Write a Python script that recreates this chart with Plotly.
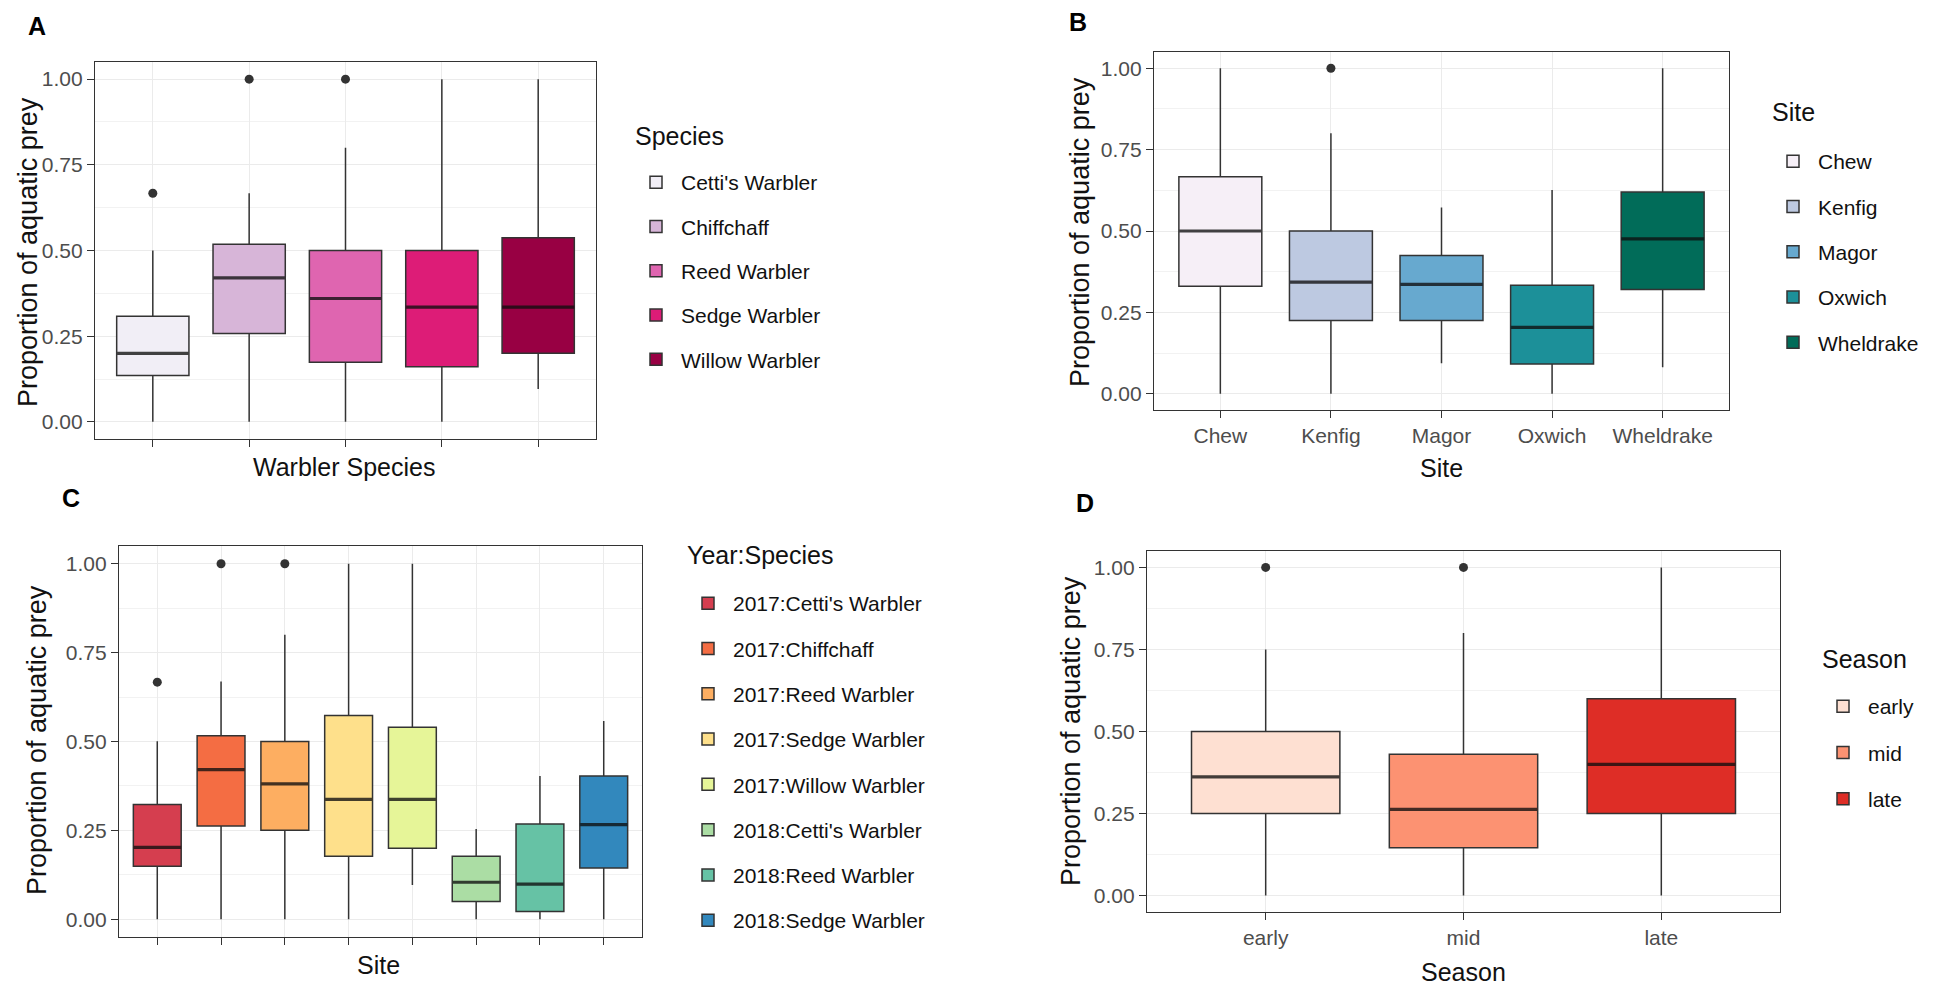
import plotly.graph_objects as go

W, H = 1933, 987

# ---------------- Data ----------------
# Panel A: species
a_cats = ["Cetti's Warbler", "Chiffchaff", "Reed Warbler", "Sedge Warbler", "Willow Warbler"]
a_q1 = [0.135, 0.258, 0.174, 0.161, 0.200]
a_med = [0.200, 0.420, 0.360, 0.335, 0.335]
a_q3 = [0.308, 0.518, 0.500, 0.500, 0.537]
a_lo = [0.0, 0.0, 0.0, 0.0, 0.096]
a_hi = [0.500, 0.667, 0.800, 1.000, 1.000]
a_out_cat = ["Cetti's Warbler", "Chiffchaff", "Reed Warbler"]
a_out_val = [0.667, 1.0, 1.0]
a_colors = ["#F1EEF6", "#D7B5D8", "#DF65B0", "#DD1C77", "#980043"]

# Panel B: site
b_cats = ["Chew", "Kenfig", "Magor", "Oxwich", "Wheldrake"]
b_q1 = [0.330, 0.225, 0.225, 0.091, 0.320]
b_med = [0.500, 0.343, 0.336, 0.204, 0.476]
b_q3 = [0.667, 0.500, 0.425, 0.333, 0.620]
b_lo = [0.0, 0.0, 0.094, 0.0, 0.081]
b_hi = [1.000, 0.800, 0.572, 0.626, 1.000]
b_out_cat = ["Kenfig"]
b_out_val = [1.0]
b_colors = ["#F6EFF7", "#BDC9E1", "#67A9CF", "#1C9099", "#016C59"]

# Panel C: year:species
c_cats = ["2017:Cetti's Warbler", "2017:Chiffchaff", "2017:Reed Warbler", "2017:Sedge Warbler",
          "2017:Willow Warbler", "2018:Cetti's Warbler", "2018:Reed Warbler", "2018:Sedge Warbler"]
c_q1 = [0.149, 0.262, 0.250, 0.177, 0.200, 0.050, 0.022, 0.144]
c_med = [0.202, 0.421, 0.381, 0.337, 0.337, 0.104, 0.099, 0.266]
c_q3 = [0.323, 0.516, 0.500, 0.573, 0.540, 0.177, 0.268, 0.403]
c_lo = [0.0, 0.0, 0.0, 0.0, 0.096, 0.0, 0.0, 0.0]
c_hi = [0.501, 0.669, 0.800, 1.000, 1.000, 0.254, 0.403, 0.558]
c_out_cat = ["2017:Cetti's Warbler", "2017:Chiffchaff", "2017:Reed Warbler"]
c_out_val = [0.667, 1.0, 1.0]
c_colors = ["#D53E4F", "#F46D43", "#FDAE61", "#FEE08B", "#E6F598", "#ABDDA4", "#66C2A5", "#3288BD"]

# Panel D: season
d_cats = ["early", "mid", "late"]
d_q1 = [0.250, 0.146, 0.250]
d_med = [0.362, 0.263, 0.400]
d_q3 = [0.500, 0.431, 0.600]
d_lo = [0.0, 0.0, 0.0]
d_hi = [0.750, 0.800, 1.000]
d_out_cat = ["early", "mid"]
d_out_val = [1.0, 1.0]
d_colors = ["#FEE0D2", "#FC9272", "#DE2D26"]

y_ticks = [0.0, 0.25, 0.5, 0.75, 1.0]
y_ticktext = ["0.00", "0.25", "0.50", "0.75", "1.00"]

# ---------------- Styling helpers ----------------
FONT = "Liberation Sans, Arial, sans-serif"
LINE = "#333333"


def px_x(x):
    return x / W


def px_y(y):
    return 1 - y / H


def darken(hex_color, f=0.22):
    h = hex_color.lstrip("#")
    r, g, b = (int(h[i:i + 2], 16) for i in (0, 2, 4))
    return "#{:02X}{:02X}{:02X}".format(int(r * f + 30 * (1 - f) * 0.5),
                                        int(g * f + 30 * (1 - f) * 0.5),
                                        int(b * f + 30 * (1 - f) * 0.5))


panels = [
    dict(key="A", cats=a_cats, q1=a_q1, med=a_med, q3=a_q3, lo=a_lo, hi=a_hi,
         oc=a_out_cat, ov=a_out_val, colors=a_colors, ax="", legend="legend",
         box=(95, 596, 62, 439), showlabels=False, title="Species",
         xtitle="Warbler Species", xt=(344, 467), yt=(28, 252), lab=(37, 26),
         leg=(631, 162), legtitle=(633, 136), gap=14),
    dict(key="B", cats=b_cats, q1=b_q1, med=b_med, q3=b_q3, lo=b_lo, hi=b_hi,
         oc=b_out_cat, ov=b_out_val, colors=b_colors, ax="2", legend="legend2",
         box=(1154, 1729, 52, 410), showlabels=True, title="Site",
         xtitle="Site", xt=(1441, 468), yt=(1080, 232), lab=(1078, 22),
         leg=(1768, 141), legtitle=(1770, 112), gap=15),
    dict(key="C", cats=c_cats, q1=c_q1, med=c_med, q3=c_q3, lo=c_lo, hi=c_hi,
         oc=c_out_cat, ov=c_out_val, colors=c_colors, ax="3", legend="legend3",
         box=(119, 642, 546, 937), showlabels=False, title="Year:Species",
         xtitle="Site", xt=(378, 965), yt=(37, 740), lab=(71, 498),
         leg=(683, 583), legtitle=(685, 555), gap=15),
    dict(key="D", cats=d_cats, q1=d_q1, med=d_med, q3=d_q3, lo=d_lo, hi=d_hi,
         oc=d_out_cat, ov=d_out_val, colors=d_colors, ax="4", legend="legend4",
         box=(1147, 1780, 551, 912), showlabels=True, title="Season",
         xtitle="Season", xt=(1463, 972), yt=(1071, 731), lab=(1085, 503),
         leg=(1818, 686), legtitle=(1820, 659), gap=16),
]

fig = go.Figure()
layout = dict(
    width=W, height=H, margin=dict(l=0, r=0, t=0, b=0),
    paper_bgcolor="white", plot_bgcolor="white",
    font=dict(family=FONT, color="#000000"),
    showlegend=True, boxmode="overlay",
)
annotations = []

for p in panels:
    ax = p["ax"]
    xref = "x" + ax
    yref = "y" + ax
    for i, cat in enumerate(p["cats"]):
        fig.add_trace(go.Box(
            x=[cat], q1=[p["q1"][i]], median=[p["med"][i]], q3=[p["q3"][i]],
            lowerfence=[p["lo"][i]], upperfence=[p["hi"][i]],
            orientation="v", name=cat, fillcolor=p["colors"][i],
            line=dict(color=LINE, width=1.5), whiskerwidth=0, width=0.75,
            boxpoints=False, xaxis=xref, yaxis=yref, legend=p["legend"],
            legendgroup=p["key"] + str(i), hoverinfo="skip",
        ))
    # thick median bars (ggplot's fattened median line)
    for i, cat in enumerate(p["cats"]):
        m = p["med"][i]
        fig.add_trace(go.Box(
            x=[cat], q1=[m], median=[m], q3=[m], lowerfence=[m], upperfence=[m],
            orientation="v", name=cat, fillcolor="rgba(0,0,0,0)",
            line=dict(color=darken(p["colors"][i]), width=3.2), whiskerwidth=0, width=0.75,
            boxpoints=False, xaxis=xref, yaxis=yref, showlegend=False,
            legend=p["legend"], legendgroup=p["key"] + str(i), hoverinfo="skip",
        ))
    fig.add_trace(go.Scatter(
        x=p["oc"], y=p["ov"], mode="markers",
        marker=dict(color="#333333", size=9), showlegend=False,
        xaxis=xref, yaxis=yref, hoverinfo="skip",
    ))
    l, r, t, b = p["box"]
    n = len(p["cats"])
    xa = dict(
        domain=[px_x(l), px_x(r)], type="category", categoryorder="array",
        categoryarray=p["cats"], range=[-0.6, n - 0.4],
        showgrid=True, gridcolor="#EBEBEB", gridwidth=1.2,
        showline=True, linecolor=LINE, linewidth=1.4, mirror=True,
        ticks="outside", ticklen=7, tickwidth=1.2, tickcolor=LINE,
        showticklabels=p["showlabels"],
        tickfont=dict(family=FONT, size=21, color="#4D4D4D"),
        anchor=yref, zeroline=False, fixedrange=True,
    )
    ya = dict(
        domain=[px_y(b), px_y(t)], range=[-0.05, 1.05],
        tickvals=y_ticks, ticktext=y_ticktext,
        showgrid=True, gridcolor="#EBEBEB", gridwidth=1.2,
        minor=dict(dtick=0.125, tick0=0, showgrid=True, gridcolor="#F2F2F2", gridwidth=0.9, ticks=""),
        showline=True, linecolor=LINE, linewidth=1.4, mirror=True,
        ticks="outside", ticklen=7, tickwidth=1.2, tickcolor=LINE,
        tickfont=dict(family=FONT, size=21, color="#4D4D4D"),
        anchor=xref, zeroline=False, fixedrange=True,
    )
    layout["xaxis" + ax] = xa
    layout["yaxis" + ax] = ya
    lx, ly = p["leg"]
    layout[p["legend"]] = dict(
        x=px_x(lx), y=px_y(ly), xanchor="left", yanchor="top",
        font=dict(family=FONT, size=21, color="#111111"),
        itemwidth=40, tracegroupgap=p["gap"], bgcolor="rgba(0,0,0,0)",
        traceorder="grouped",
    )
    # legend title
    annotations.append(dict(text=p["title"], x=px_x(p["legtitle"][0]), y=px_y(p["legtitle"][1]),
                            xref="paper", yref="paper", showarrow=False,
                            xanchor="left", yanchor="middle",
                            font=dict(family=FONT, size=25, color="#111111")))
    # panel label
    annotations.append(dict(text="<b>" + p["key"] + "</b>", x=px_x(p["lab"][0]), y=px_y(p["lab"][1]),
                            xref="paper", yref="paper", showarrow=False,
                            xanchor="center", yanchor="middle",
                            font=dict(family=FONT, size=25, color="#000000")))
    # y title
    annotations.append(dict(text="Proportion of aquatic prey", x=px_x(p["yt"][0]), y=px_y(p["yt"][1]),
                            xref="paper", yref="paper", showarrow=False, textangle=-90,
                            xanchor="center", yanchor="middle",
                            font=dict(family=FONT, size=27, color="#111111")))
    # x title
    annotations.append(dict(text=p["xtitle"], x=px_x(p["xt"][0]), y=px_y(p["xt"][1]),
                            xref="paper", yref="paper", showarrow=False,
                            xanchor="center", yanchor="middle",
                            font=dict(family=FONT, size=25, color="#111111")))

layout["annotations"] = annotations
fig.update_layout(**layout)
fig.write_html("out.html")
